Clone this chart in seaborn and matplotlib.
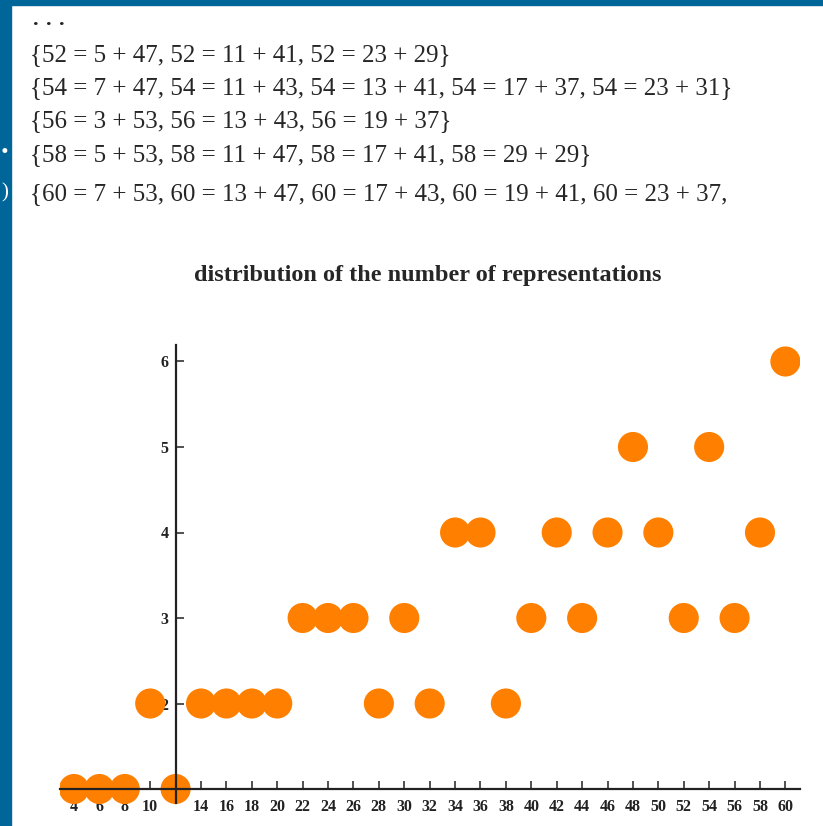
import matplotlib
matplotlib.use("Agg")
import matplotlib.pyplot as plt
import seaborn as sns
import pandas as pd

# even numbers and how many ways each is written as a sum of two primes
evens = [4, 6, 8, 10, 12, 14, 16, 18, 20, 22, 24, 26, 28, 30, 32, 34, 36,
         38, 40, 42, 44, 46, 48, 50, 52, 54, 56, 58, 60]
counts = [1, 1, 1, 2, 1, 2, 2, 2, 2, 3, 3, 3, 2, 3, 2, 4, 4, 2, 3, 4, 3, 4,
          5, 4, 3, 5, 3, 4, 6]
x_ticks = list(range(4, 62, 2))
x_labels = [str(v) if v != 12 else "" for v in x_ticks]
y_ticks = [2, 3, 4, 5, 6]

lines = [
    "{52 = 5 + 47, 52 = 11 + 41, 52 = 23 + 29}",
    "{54 = 7 + 47, 54 = 11 + 43, 54 = 13 + 41, 54 = 17 + 37, 54 = 23 + 31}",
    "{56 = 3 + 53, 56 = 13 + 43, 56 = 19 + 37}",
    "{58 = 5 + 53, 58 = 11 + 47, 58 = 17 + 41, 58 = 29 + 29}",
    "{60 = 7 + 53, 60 = 13 + 47, 60 = 17 + 43, 60 = 19 + 41, 60 = 23 + 37,",
]
line_y = [55, 88, 121, 155, 194]

df = pd.DataFrame({"n": evens, "count": counts})

sns.set_style("white")
plt.rcParams["font.family"] = ["Liberation Serif", "DejaVu Serif"]

W, H = 823, 826
fig = plt.figure(figsize=(W / 100, H / 100), dpi=100)
fig.patch.set_facecolor("white")

# blue frame on the left and top
blue = "#00669a"
fig.add_artist(plt.Rectangle((0, 0), 11 / W, 1, transform=fig.transFigure,
                             color=blue, zorder=0))
fig.add_artist(plt.Rectangle((0, 1 - 5 / H), 1, 5 / H,
                             transform=fig.transFigure, color=blue, zorder=0))
fig.text(1 / W, 1 - 153 / H, ".", color="white", fontsize=22,
         fontweight="bold", va="baseline")
fig.text(1 / W, 1 - 193 / H, ")", color="white", fontsize=15, va="center")

# text lines above the chart
for dx in [36, 49, 62]:
    fig.text(dx / W, 1 - 25 / H, ".", fontsize=16, fontweight="bold",
             ha="center", va="baseline")
for txt, yy in zip(lines, line_y):
    fig.text(30 / W, 1 - yy / H, txt, fontsize=18, va="center")

fig.text(428 / W, 1 - 275 / H, "distribution of the number of representations",
         fontsize=17.5, fontweight="bold", ha="center", va="center")

# axes area in pixels; y=1 sits at 789 px, 85.5 px per unit
left, right, top, bottom = 60, 800, 345, 812
ax = fig.add_axes([left / W, 1 - bottom / H, (right - left) / W,
                   (bottom - top) / H])
ax.set_facecolor("none")

sns.scatterplot(data=df, x="n", y="count", ax=ax, s=470, color="#ff8000",
                edgecolor="none", linewidth=0, zorder=1)

ax.set_xlim(2.9, 61.15)
ax.set_ylim(1 - 23 / 85.5, 1 + 444 / 85.5)
ax.spines["top"].set_visible(False)
ax.spines["right"].set_visible(False)
ax.spines["left"].set_position(("data", 12))
ax.spines["bottom"].set_position(("data", 1))
ax.spines["left"].set_bounds(1 - 14 / 85.5, 1 + 444 / 85.5)
for side in ["left", "bottom"]:
    ax.spines[side].set_color("#222222")
    ax.spines[side].set_linewidth(1.6)
    ax.spines[side].set_zorder(3)

ax.set_xticks(x_ticks)
ax.set_xticklabels(x_labels)
ax.set_yticks(y_ticks)
ax.tick_params(axis="both", direction="in", length=6, width=1.1,
               color="#222222", labelsize=11.5, bottom=True, left=True)
ax.tick_params(axis="x", pad=7)
ax.tick_params(axis="y", pad=5)
for lab in ax.get_xticklabels() + ax.get_yticklabels():
    lab.set_fontweight("bold")
    lab.set_color("#222222")
ax.set_xlabel("")
ax.set_ylabel("")

fig.savefig("out.png", dpi=100)
